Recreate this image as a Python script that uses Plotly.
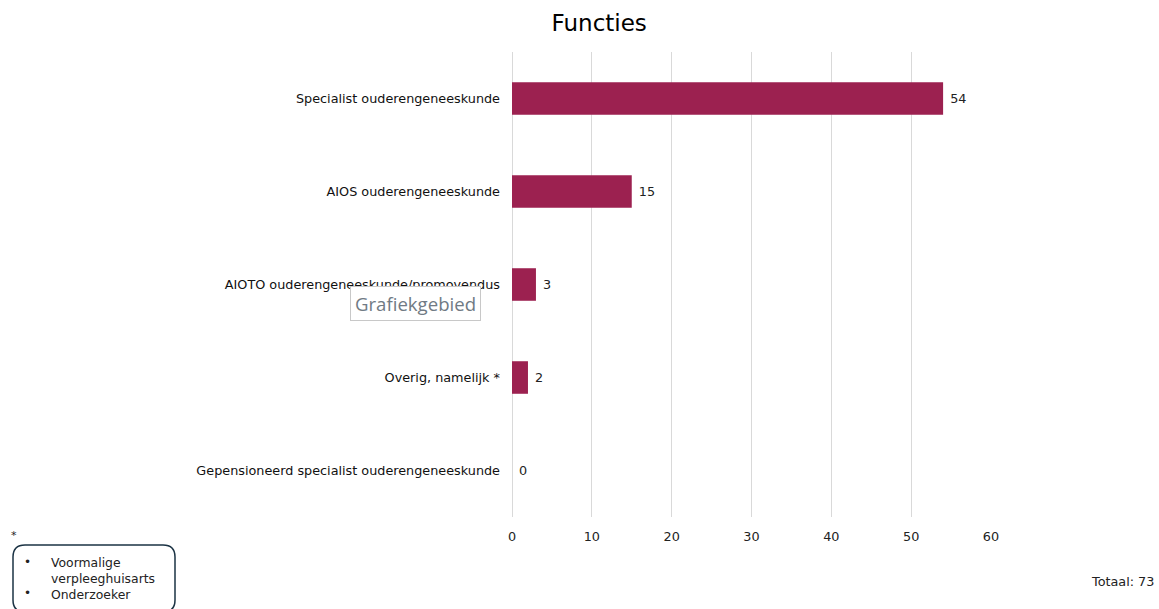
import plotly.graph_objects as go

categories = [
    "Specialist ouderengeneeskunde",
    "AIOS ouderengeneeskunde",
    "AIOTO ouderengeneeskunde/promovendus",
    "Overig, namelijk *",
    "Gepensioneerd specialist ouderengeneeskunde",
]
values = [54, 15, 3, 2, 0]
tick_vals = [0, 10, 20, 30, 40, 50, 60]
title_text = "Functies"
footnote_items = ["Voormalige<br>verpleeghuisarts", "Onderzoeker"]
total_text = "Totaal: 73"

FONT = "DejaVu Sans"
FS = 12.8
BAR = "#9C2150"

fig = go.Figure()
fig.add_trace(go.Bar(
    y=categories, x=values, orientation="h",
    marker=dict(color=BAR, line=dict(width=0)),
    width=0.35,
    text=["\u00a0" + str(v) for v in values], textposition="outside",
    textfont=dict(family=FONT, size=FS, color="#222222"),
    cliponaxis=False,
    hoverinfo="skip",
))

fig.update_layout(
    width=1159, height=609,
    margin=dict(l=512, r=168, t=52, b=92),
    paper_bgcolor="white", plot_bgcolor="white",
    showlegend=False,
    title=dict(text=title_text, x=0.517, xanchor="center", y=0.962, yanchor="middle",
               font=dict(family=FONT, size=23, color="#000000")),
    font=dict(family=FONT, size=FS, color="#222222"),
)
fig.update_xaxes(
    range=[0, 60], tickvals=tick_vals, showgrid=True, gridcolor="#D9D9D9", gridwidth=1,
    zeroline=True, zerolinecolor="#D9D9D9", zerolinewidth=1, showline=False,
    ticks="", ticklabelstandoff=10,
    tickfont=dict(family=FONT, size=FS, color="#222222"),
)
fig.update_yaxes(
    categoryorder="array", categoryarray=categories[::-1],
    showgrid=False, showline=False, ticks="", ticklabelstandoff=11,
    tickfont=dict(family=FONT, size=FS, color="#111111"),
)

def px(x):
    return (x - 512) / 479
def py(y):
    return (517 - y) / 465

# Footnote marker
fig.add_annotation(xref="paper", yref="paper", x=px(9), y=py(535),
                   text="*", showarrow=False, xanchor="left", yanchor="middle",
                   font=dict(family=FONT, size=11, color="#222222"))
# Rounded box
x0, x1, y0, y1, r = 13, 175, 545, 612, 12
path = (f"M {px(x0+r)},{py(y0)} L {px(x1-r)},{py(y0)} Q {px(x1)},{py(y0)} {px(x1)},{py(y0+r)} "
        f"L {px(x1)},{py(y1-r)} Q {px(x1)},{py(y1)} {px(x1-r)},{py(y1)} L {px(x0+r)},{py(y1)} "
        f"Q {px(x0)},{py(y1)} {px(x0)},{py(y1-r)} L {px(x0)},{py(y0+r)} Q {px(x0)},{py(y0)} {px(x0+r)},{py(y0)} Z")
fig.add_shape(type="path", xref="paper", yref="paper", path=path,
              line=dict(color="#1B3344", width=1.5), fillcolor="white")

fig.add_annotation(xref="paper", yref="paper", x=px(22), y=py(553), text="•<br> <br>•",
                   showarrow=False, xanchor="left", yanchor="top", align="left",
                   font=dict(family=FONT, size=12, color="#222222"))
fig.add_annotation(xref="paper", yref="paper", x=px(49), y=py(553), text="<br>".join(footnote_items),
                   showarrow=False, xanchor="left", yanchor="top", align="left",
                   font=dict(family=FONT, size=12.4, color="#222222"))

fig.add_annotation(xref="paper", yref="paper", x=px(1156), y=py(581), text=total_text,
                   showarrow=False, xanchor="right", yanchor="middle",
                   font=dict(family=FONT, size=FS, color="#222222"))

# Tooltip-like label
fig.add_annotation(xref="paper", yref="paper", x=px(350), y=py(303), text="Grafiekgebied",
                   showarrow=False, xanchor="left", yanchor="middle",
                   bgcolor="white", bordercolor="#C8C8C8", borderwidth=1, borderpad=4,
                   font=dict(family="Open Sans", size=18.6, color="#707A84"))

fig.write_html("out.html", config={"displayModeBar": False},
               post_script="document.body.style.margin='0';document.body.style.overflow='hidden';")
